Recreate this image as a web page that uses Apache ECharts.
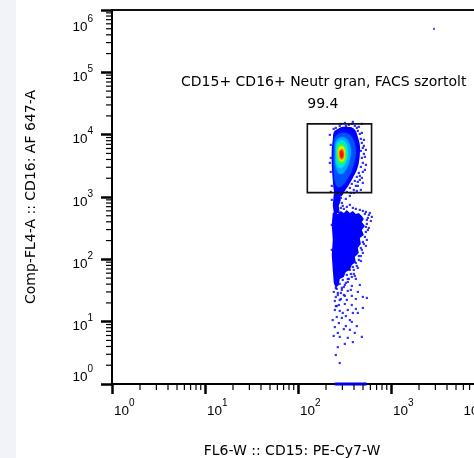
<!DOCTYPE html>
<html><head><meta charset="utf-8">
<script src="https://cdn.jsdelivr.net/npm/echarts@6/dist/echarts.min.js"></script>
<style>
html,body{margin:0;padding:0;background:#fff;}
#strip{position:absolute;left:0;top:0;width:16px;height:458px;background:#f2f3f8;}
#c{position:absolute;left:0;top:0;width:474px;height:458px;}
</style></head><body>
<div id="strip"></div><div id="c"></div>
<script>
// ---- text ----
const xName = 'FL6-W :: CD15: PE-Cy7-W';
const yName = 'Comp-FL4-A :: CD16: AF 647-A';
const gateName = 'CD15+ CD16+ Neutr gran, FACS szortolt';
const gatePercent = '99.4';

// ---- axes ----
const xRange = [1, 10000];
const yRange = [1, 1000000];
const xMinorTicks = [2,3,4,5,6,7,8,9,20,30,40,50,60,70,80,90,200,300,400,500,600,700,800,900,2000,3000,4000,5000,6000,7000,8000,9000];
const yMinorTicks = [2,3,4,5,6,7,8,9,20,30,40,50,60,70,80,90,200,300,400,500,600,700,800,900,2000,3000,4000,5000,6000,7000,8000,9000,
  20000,30000,40000,50000,60000,70000,80000,90000,200000,300000,400000,500000,600000,700000,800000,900000];

// ---- gate ----
const gateRect = [[126, 14910], [618, 1177]];
const gateNameAt = [189, 67800];
const gatePercentAt = [185, 31200];

// ---- density contours (outer -> inner) ----
const lowerCore = [[236.5,555.5],[254.8,576.5],[267.8,535.4],[288.5,598.3],[310.8,555.5],[334.8,621],[360.7,555.5],[388.6,598.3],
  [418.6,535.4],[451,555.5],[485.9,497.3],[510.6,445.1],[485.9,398.4],[523.5,343.7],[485.9,296],[510.6,246],[462.3,220.5],
  [474,176.7],[440,152.4],[451,126.7],[408.4,109.3],[418.6,90.8],[379.1,81.3],[360.7,67.6],[326.6,62.8],[310.8,52.2],
  [281.4,48.5],[274.5,38.8],[254.8,34.75],[242.5,41.8],[236.5,67.6],[230.7,117.7],[236.5,205],[230.7,357]];
const connector = [[242.5,1121],[281.4,1121],[288.5,898],[274.5,719.7],[281.4,555.5],[242.5,555.5],[236.5,747]];
const blobLevel0 = [[242.5,11080],[267.8,12380],[303.2,13340],[343.2,13340],[388.6,12850],[418.6,11500],[440,9218],[462.3,6860],[462.3,4741],[451,3527],[429.2,2723],[388.6,2025],[351.9,1564],[318.6,1253],[295.7,1041],[254.8,1004],[242.5,1300],[236.5,1882],[230.7,3276],[230.7,5702],[236.5,8250]];
const blobLevel1 = [[248.6,8883],[274.5,10290],[318.6,10680],[360.7,9927],[398.3,7950],[418.6,5702],[408.4,3941],[379.1,2723],[343.2,2025],[303.2,1564],[267.8,1453],[248.6,1882],[242.5,2932],[242.5,5702]];
const blobLevel2 = [[254.8,7661],[281.4,8883],[318.6,8883],[351.9,7661],[369.8,5702],[360.7,3941],[334.8,2932],[295.7,2348],[267.8,2529],[251.7,3527],[251.7,5702]];
const blobLevel3 = [[261.2,7115],[281.4,7950],[310.8,7950],[334.8,6860],[343.2,5295],[334.8,3941],[310.8,3157],[281.4,2932],[261.2,3399],[258,4741]];
const blobLevel4 = [[267.8,6370],[285,7115],[307,6985],[322.6,5916],[326.6,4569],[314.7,3660],[288.5,3399],[271.1,3798],[264.5,4918]];
const blobLevel5 = [[274.5,5916],[288.5,6490],[307,6370],[318.6,5495],[318.6,4403],[307,3798],[285,3798],[274.5,4403],[271.1,5103]];
const blobLevel6 = [[278,5495],[292,5916],[307,5702],[313,4918],[309,4165],[292,3941],[281.4,4243],[276.5,4830]];
const blobLevel7 = [[283,5295],[294,5600],[304.7,5295],[307,4655],[299.4,4243],[288.5,4243],[282.8,4741]];

// ---- individual events ----
const sparseEvents = [
 [379,14910],[408,13840],[352,14360],[327,13840],[440,11500],[462,10290],[474,8561],[486,7383],[498,6138],[474,5495],
 [511,4918],[486,4243],[498,3527],[474,3042],[524,2723],[451,2437],[429,2102],[486,2025],[408,1814],[379,1623],
 [419,1507],[361,1400],[335,1207],[370,1163],[225,6860],[225,4243],[225,2529],[231,1507],[255,12850],[281,13840],
 [451,6370],[440,3941],[398,1300],[440,1748],[511,6610],[429,12850],[319,15470],[389,16050],
 [486,10680],[511,8250],[537,5702],[524,4403],[537,3276],[498,2529],[462,1882],[440,1507],[462,2181],[498,1684],
 [474,1300],[398,1163],[429,1253],[361,1041],[327,932],[486,14910],[451,13340],[289,14910],[242,12380],[220,9927],
 [220,3527],[225,1207],
 [289,967],[296,804],[289,668],[311,644],[231,898],[231,357],[231,142],[524,535],[578,516],[623,479],[550,429],[537,331],
 [303,720],[335,694],[361,747],[389,668],[419,644],[462,621],[498,598],[537,576],[592,555],[564,462],[607,413],[550,370],
 [578,319],[537,275],[550,205],[511,177],[486,142],[474,113],[451,98],[429,78.4],[398,67.6],[370,58.3],[408,54.1],
 [343,48.5],[327,41.8],[379,37.4],[296,34.8],[343,31.1],[268,28.9],[311,26.8],[255,24.9],[289,23.1],[379,25.9],[440,30],
 [319,19.2],[261,17.8],[379,18.5],[419,16],[281,14.9],[327,12.3],[236,10.6],[361,10.6],[275,9.5],[429,8.5],[311,7.6],
 [242,5.9],[343,5.5],[319,4.4],
 [564,296],[524,229],[498,190],[537,164],[474,152],[498,127],[451,113],[474,94],[419,87.5],[389,75.5],[440,72.8],[361,67.6],
 [335,56.2],[379,52.2],[303,46.7],[419,48.5],[343,43.4],[281,40.3],[311,36],[261,33.5],[370,32.3],[289,28.9],[498,24.9],
 [550,24],[419,23.1],[335,22.3],[249,21.5],[275,18.5],[498,16.6],[343,15.4],[389,13.8],[440,13.8],[303,13.8],[261,11.9],
 [296,11.5],[379,9.9],[327,8.5],[249,8.2],[361,7.4],[268,6.6],[408,6.6],[281,5.7],[486,5.7],[389,4.7],[268,3.9],[281,2.17],
 [255,2.92],[319,25.9],[462,38.8],[249,15.4],[255,34.7],[242.5,30],[268,26.8],[296,32.3],[255,41.8],[319,38.8],[352,48.5],
 [398,58.3],[281,22.3],[255,17.8]
];
const floorEvents = [[255,1],[268,1],[281,1],[296,1],[311,1],[327,1],[343,1],[361,1],[379,1],[398,1],[419,1],[440,1],[462,1],[486,1],[511,1],[530,1]];
const outlierEvents = [[2900, 499000]];

// ---- styling ----
const densityPolys = [lowerCore, connector, blobLevel0, blobLevel1, blobLevel2, blobLevel3, blobLevel4, blobLevel5, blobLevel6, blobLevel7];
const densityColors = ['#0000ff','#0000ff','#0000ff','#0050ff','#00a8ff','#00e8e0','#30ff30','#e8ff00','#ff9000','#ff1000'];
const tickFont = 'Liberation Sans';
const nameFont = 'DejaVu Sans';

function expLabel(v) {
  const e = Math.round(Math.log10(v));
  return '{b|10}{s|' + e + '}';
}
const richLabel = {
  b: { fontSize: 13.5, fontFamily: tickFont, color: '#000', verticalAlign: 'bottom' },
  s: { fontSize: 10, fontFamily: tickFont, color: '#000', verticalAlign: 'top', padding: [0, 0, 10, 0] }
};

const chart = echarts.init(document.getElementById('c'), null, { renderer: 'canvas' });
chart.setOption({
  animation: false,
  grid: { left: 112, top: 10, right: -10, bottom: 74, containLabel: false, outerBoundsMode: 'none',
          show: true, borderColor: '#111', borderWidth: 2, backgroundColor: 'transparent' },
  xAxis: {
    type: 'log', logBase: 10, min: xRange[0], max: xRange[1],
    name: xName, nameLocation: 'middle', nameGap: 60,
    nameTextStyle: { fontFamily: nameFont, fontSize: 14, color: '#000', padding: [0, 12, 0, 0] },
    axisLine: { onZero: false, lineStyle: { color: '#000', width: 2 } },
    axisTick: { show: true, length: 10, lineStyle: { color: '#000', width: 2.5 } },
    splitLine: { show: false },
    axisLabel: { formatter: expLabel, rich: richLabel, margin: 14, align: 'left', padding: [0, 0, 0, 2],
                 showMinLabel: true, showMaxLabel: true, alignMinLabel: 'left', alignMaxLabel: 'right' }
  },
  yAxis: {
    type: 'log', logBase: 10, min: yRange[0], max: yRange[1],
    name: yName, nameLocation: 'middle', nameGap: 74,
    nameTextStyle: { fontFamily: nameFont, fontSize: 14, color: '#000' },
    axisLine: { onZero: false, lineStyle: { color: '#000', width: 2 } },
    axisTick: { show: true, length: 11, lineStyle: { color: '#000', width: 2.5 } },
    splitLine: { show: false },
    axisLabel: { formatter: expLabel, rich: richLabel, margin: 19, padding: [4, 0, 0, 0],
                 showMinLabel: true, showMaxLabel: true, verticalAlignMinLabel: 'bottom', verticalAlignMaxLabel: 'top' }
  },
  series: [
    {
      type: 'custom', name: 'density', z: 2,
      data: densityPolys.map((p, i) => [1, 1, i]),
      encode: { x: 0, y: 1 },
      renderItem: function (params, api) {
        const i = api.value(2);
        return {
          type: 'polygon',
          shape: { points: densityPolys[i].map(p => api.coord(p)), smooth: i > 1 ? 0.3 : 0 },
          style: { fill: densityColors[i], shadowBlur: i > 2 ? 2 : 0, shadowColor: densityColors[i] }
        };
      }
    },
    {
      type: 'scatter', name: 'events', z: 3, data: sparseEvents,
      symbol: 'rect', symbolSize: 2.2, itemStyle: { color: '#0000ff' }
    },
    {
      type: 'scatter', name: 'floor', z: 3, data: floorEvents, clip: false,
      symbol: 'rect', symbolSize: [3, 3], itemStyle: { color: '#0000ff' }
    },
    {
      type: 'scatter', name: 'outlier', z: 3, data: outlierEvents,
      symbol: 'rect', symbolSize: 2, itemStyle: { color: '#2020ff' }
    },
    {
      type: 'custom', name: 'gate', z: 5,
      data: [[1, 1]],
      renderItem: function (params, api) {
        const a = api.coord(gateRect[0]);
        const b = api.coord(gateRect[1]);
        const n = api.coord(gateNameAt);
        const p = api.coord(gatePercentAt);
        return {
          type: 'group',
          children: [
            { type: 'rect', shape: { x: a[0], y: a[1], width: b[0] - a[0], height: b[1] - a[1] },
              style: { fill: 'none', stroke: '#111', lineWidth: 1.6 } },
            { type: 'text', x: n[0], y: n[1],
              style: { text: gateName, fill: '#000', font: '14px "' + nameFont + '"', align: 'center', verticalAlign: 'middle' } },
            { type: 'text', x: p[0], y: p[1],
              style: { text: gatePercent, fill: '#000', font: '14px "' + nameFont + '"', align: 'center', verticalAlign: 'middle' } }
          ]
        };
      }
    },
    {
      type: 'custom', name: 'xMinor', z: 6, clip: false,
      data: xMinorTicks.map(v => [v, 1]),
      renderItem: function (params, api) {
        const q = api.coord([api.value(0), yRange[0]]);
        return { type: 'line', shape: { x1: q[0], y1: q[1], x2: q[0], y2: q[1] + 6 }, style: { stroke: '#000', lineWidth: 1.2 } };
      }
    },
    {
      type: 'custom', name: 'yMinor', z: 6, clip: false,
      data: yMinorTicks.map(v => [1, v]),
      renderItem: function (params, api) {
        const q = api.coord([xRange[0], api.value(1)]);
        return { type: 'line', shape: { x1: q[0] - 6, y1: q[1], x2: q[0], y2: q[1] }, style: { stroke: '#000', lineWidth: 1.2 } };
      }
    }
  ]
});
</script>
</body></html>
